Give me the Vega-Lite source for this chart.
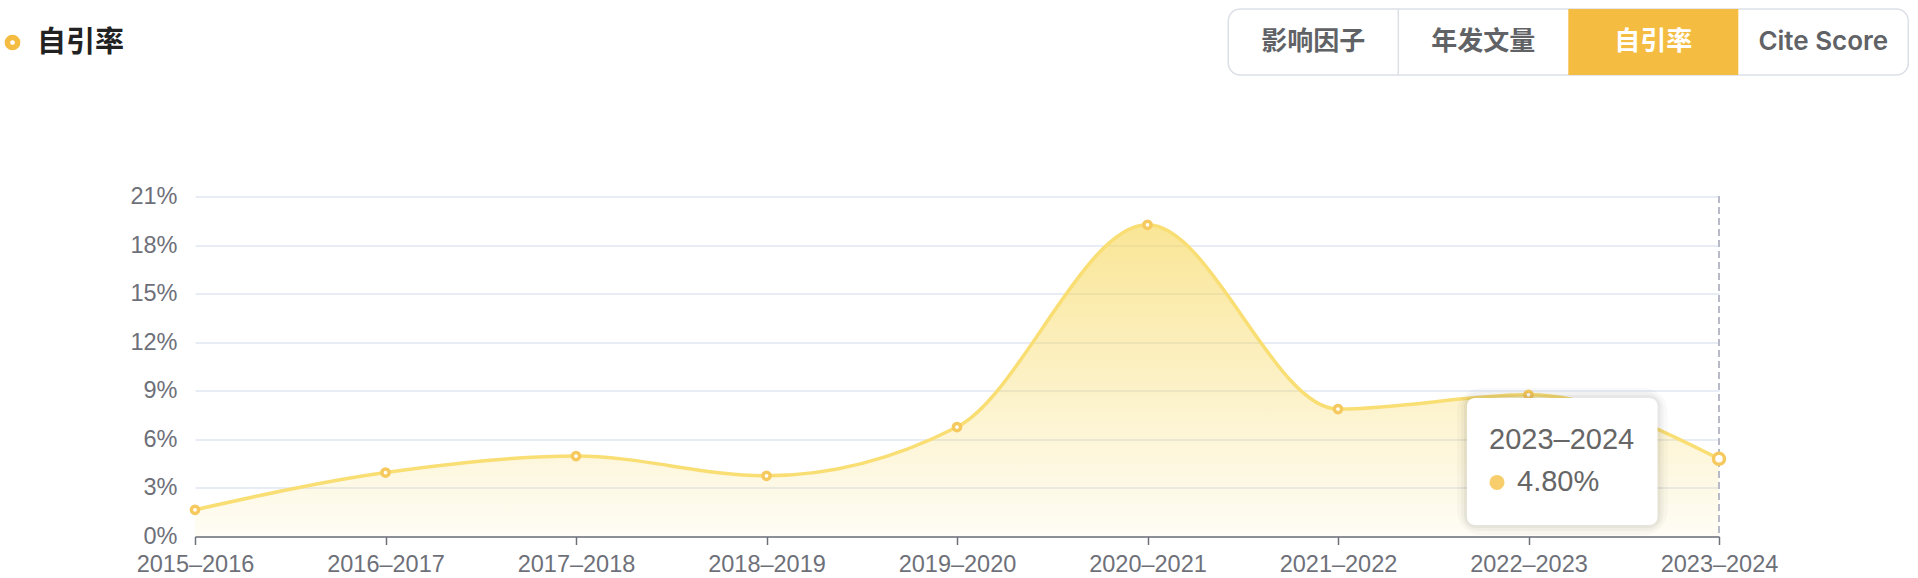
{
  "$schema": "https://vega.github.io/schema/vega-lite/v6.json",
  "width": 1524,
  "height": 340,
  "autosize": {"type": "none"},
  "padding": {"left": 195, "top": 196.5, "right": 199, "bottom": 41.5},
  "background": "white",
  "config": {"view": {"stroke": null}, "font": "Liberation Sans"},
  "datasets": {
    "rates": [
      {"period": "2015–2016", "value": 0.0165},
      {"period": "2016–2017", "value": 0.0395},
      {"period": "2017–2018", "value": 0.0497},
      {"period": "2018–2019", "value": 0.0375},
      {"period": "2019–2020", "value": 0.0676},
      {"period": "2020–2021", "value": 0.1925},
      {"period": "2021–2022", "value": 0.0787},
      {"period": "2022–2023", "value": 0.0875},
      {"period": "2023–2024", "value": 0.048}
    ],
    "tabs": [
      {"name": "影响因子", "active": false},
      {"name": "年发文量", "active": false},
      {"name": "自引率", "active": true},
      {"name": "Cite Score", "active": false}
    ],
    "heading": [{"label": "自引率"}]
  },
  "layer": [
    {
      "data": {"name": "rates"},
      "layer": [
        {
          "mark": {
            "type": "area",
            "interpolate": "monotone",
            "fill": {
              "gradient": "linear",
              "x1": 0, "y1": 0, "x2": 0, "y2": 1,
              "stops": [
                {"offset": 0, "color": "rgba(246,214,86,0.62)"},
                {"offset": 1, "color": "rgba(246,214,86,0.06)"}
              ]
            }
          },
          "encoding": {
            "x": {
              "field": "period", "type": "ordinal", "sort": null,
              "scale": {"type": "point", "padding": 0},
              "title": null,
              "axis": {
                "labelAngle": 0, "labelFont": "Liberation Sans", "labelFontSize": 23.5,
                "labelColor": "#6E7079", "domainColor": "#6E7079", "domainWidth": 1.5,
                "tickColor": "#6E7079", "tickWidth": 1.5, "tickSize": 8, "labelPadding": 8,
                "grid": false, "zindex": 1
              }
            },
            "y": {
              "field": "value", "type": "quantitative",
              "scale": {"domain": [0, 0.21], "nice": false},
              "title": null,
              "axis": {
                "values": [0, 0.03, 0.06, 0.09, 0.12, 0.15, 0.18, 0.21],
                "format": ".0%", "labelFont": "Liberation Sans", "labelFontSize": 23.5,
                "labelColor": "#6E7079", "labelPadding": 18, "ticks": false, "domain": false,
                "grid": true, "gridColor": "#E0E6F1", "gridWidth": 1.5, "zindex": 0
              }
            }
          }
        },
        {
          "mark": {"type": "line", "interpolate": "monotone", "stroke": "#F9DE74", "strokeWidth": 3.5},
          "encoding": {
            "x": {"field": "period", "type": "ordinal", "sort": null, "title": null},
            "y": {"field": "value", "type": "quantitative", "title": null}
          }
        },
        {
          "mark": {"type": "rule", "stroke": "#B8BBC8", "strokeWidth": 1.5, "strokeDash": [6, 5]},
          "encoding": {
            "x": {"datum": "2023–2024", "type": "ordinal", "title": null}
          }
        },
        {
          "mark": {"type": "point", "filled": true, "fill": "#ffffff", "stroke": "#F5C95E", "strokeWidth": 3.5, "opacity": 1},
          "encoding": {
            "x": {"field": "period", "type": "ordinal", "sort": null, "title": null},
            "y": {"field": "value", "type": "quantitative", "title": null},
            "size": {"condition": {"test": "datum.period === '2023–2024'", "value": 120}, "value": 52}
          }
        },
        {
          "transform": [{"filter": "datum.period === '2023–2024'"}],
          "mark": {"type": "rect", "fill": null, "stroke": "rgba(0,0,0,0.025)", "strokeWidth": 20, "cornerRadius": 14, "xOffset": -61.5, "x2Offset": -61.5},
          "encoding": {
            "x": {"datum": "2022–2023", "type": "ordinal", "title": null},
            "x2": {"datum": "2023–2024"},
            "y": {"datum": 0.0855, "type": "quantitative", "title": null},
            "y2": {"datum": 0.0071}
          }
        },
        {
          "transform": [{"filter": "datum.period === '2023–2024'"}],
          "mark": {"type": "rect", "fill": null, "stroke": "rgba(0,0,0,0.03)", "strokeWidth": 12, "cornerRadius": 11, "xOffset": -61.5, "x2Offset": -61.5},
          "encoding": {
            "x": {"datum": "2022–2023", "type": "ordinal", "title": null},
            "x2": {"datum": "2023–2024"},
            "y": {"datum": 0.0855, "type": "quantitative", "title": null},
            "y2": {"datum": 0.0071}
          }
        },
        {
          "transform": [{"filter": "datum.period === '2023–2024'"}],
          "mark": {"type": "rect", "fill": null, "stroke": "rgba(0,0,0,0.04)", "strokeWidth": 6, "cornerRadius": 9, "xOffset": -61.5, "x2Offset": -61.5},
          "encoding": {
            "x": {"datum": "2022–2023", "type": "ordinal", "title": null},
            "x2": {"datum": "2023–2024"},
            "y": {"datum": 0.0855, "type": "quantitative", "title": null},
            "y2": {"datum": 0.0071}
          }
        },
        {
          "transform": [{"filter": "datum.period === '2023–2024'"}],
          "mark": {"type": "rect", "fill": "#ffffff", "cornerRadius": 8, "xOffset": -61.5, "x2Offset": -61.5},
          "encoding": {
            "x": {"datum": "2022–2023", "type": "ordinal", "title": null},
            "x2": {"datum": "2023–2024"},
            "y": {"datum": 0.0855, "type": "quantitative", "title": null},
            "y2": {"datum": 0.0071}
          }
        },
        {
          "transform": [{"filter": "datum.period === '2023–2024'"}],
          "mark": {"type": "text", "align": "left", "baseline": "middle", "dx": -39.5, "fontSize": 29, "font": "Liberation Sans", "color": "#666666"},
          "encoding": {
            "x": {"datum": "2022–2023", "type": "ordinal", "title": null},
            "y": {"datum": 0.0594, "type": "quantitative", "title": null},
            "text": {"field": "period"}
          }
        },
        {
          "transform": [{"filter": "datum.period === '2023–2024'"}],
          "mark": {"type": "point", "filled": true, "color": "#F7CE6B", "size": 227, "opacity": 1, "xOffset": -31.5},
          "encoding": {
            "x": {"datum": "2022–2023", "type": "ordinal", "title": null},
            "y": {"datum": 0.0334, "type": "quantitative", "title": null}
          }
        },
        {
          "transform": [{"filter": "datum.period === '2023–2024'"}],
          "mark": {"type": "text", "align": "left", "baseline": "middle", "dx": -11.5, "fontSize": 29, "font": "Liberation Sans", "color": "#666666"},
          "encoding": {
            "x": {"datum": "2022–2023", "type": "ordinal", "title": null},
            "y": {"datum": 0.0334, "type": "quantitative", "title": null},
            "text": {"field": "value", "type": "quantitative", "format": ".2%"}
          }
        }
      ]
    },
    {
      "data": {"name": "tabs"},
      "layer": [
        {
          "transform": [{"filter": "datum.name === '年发文量'"}],
          "mark": {"type": "rule", "stroke": "#DCDFE6", "strokeWidth": 1.5},
          "encoding": {
            "x": {
              "field": "name", "type": "nominal", "bandPosition": 0, "axis": null,
              "scale": {"type": "band", "domain": ["影响因子", "年发文量", "自引率", "Cite Score"], "range": [1033.3, 1713.3], "paddingInner": 0, "paddingOuter": 0}
            },
            "y": {
              "datum": "tab", "type": "nominal", "bandPosition": 0, "axis": null,
              "scale": {"type": "band", "range": [-187.5, -121.5], "paddingInner": 0, "paddingOuter": 0}
            },
            "y2": {"datum": "tab", "bandPosition": 1}
          }
        },
        {
          "transform": [{"filter": "datum.active"}],
          "mark": {"type": "rect", "fill": null, "stroke": "#DCDFE6", "strokeWidth": 1.5, "cornerRadius": 12},
          "encoding": {
            "x": {"datum": "影响因子", "type": "nominal", "bandPosition": 0, "axis": null},
            "x2": {"datum": "Cite Score", "bandPosition": 1},
            "y": {"datum": "tab", "type": "nominal", "axis": null}
          }
        },
        {
          "transform": [{"filter": "datum.active"}],
          "mark": {"type": "rect"},
          "encoding": {
            "x": {"field": "name", "type": "nominal", "axis": null},
            "y": {"datum": "tab", "type": "nominal", "axis": null},
            "fill": {"value": "#F5BC42"}
          }
        },
        {
          "mark": {"type": "text", "align": "center", "baseline": "middle", "fontSize": 26, "fontWeight": 600, "font": "Inter, Noto Sans CJK SC"},
          "encoding": {
            "x": {"field": "name", "type": "nominal", "axis": null},
            "y": {"datum": "tab", "type": "nominal", "axis": null},
            "text": {"field": "name"},
            "color": {"condition": {"test": "datum.active", "value": "#ffffff"}, "value": "#606266"}
          }
        }
      ]
    },
    {
      "data": {"name": "heading"},
      "layer": [
        {
          "mark": {"type": "point", "filled": true, "fill": "#ffffff", "stroke": "#F5BC42", "strokeWidth": 5.5, "size": 104, "opacity": 1},
          "encoding": {
            "x": {"field": "label", "type": "nominal", "axis": null, "scale": {"type": "point", "range": [-182.5, -182.5]}},
            "y": {"field": "label", "type": "nominal", "axis": null, "scale": {"type": "point", "range": [-154, -154]}}
          }
        },
        {
          "mark": {"type": "text", "align": "left", "baseline": "middle", "dx": 24.5, "fontSize": 29, "fontWeight": "bold", "font": "Noto Sans CJK SC", "color": "#222222"},
          "encoding": {
            "x": {"field": "label", "type": "nominal", "axis": null},
            "y": {"field": "label", "type": "nominal", "axis": null},
            "text": {"field": "label"}
          }
        }
      ]
    }
  ],
  "resolve": {
    "scale": {"x": "independent", "y": "independent"},
    "axis": {"x": "independent", "y": "independent"}
  }
}
